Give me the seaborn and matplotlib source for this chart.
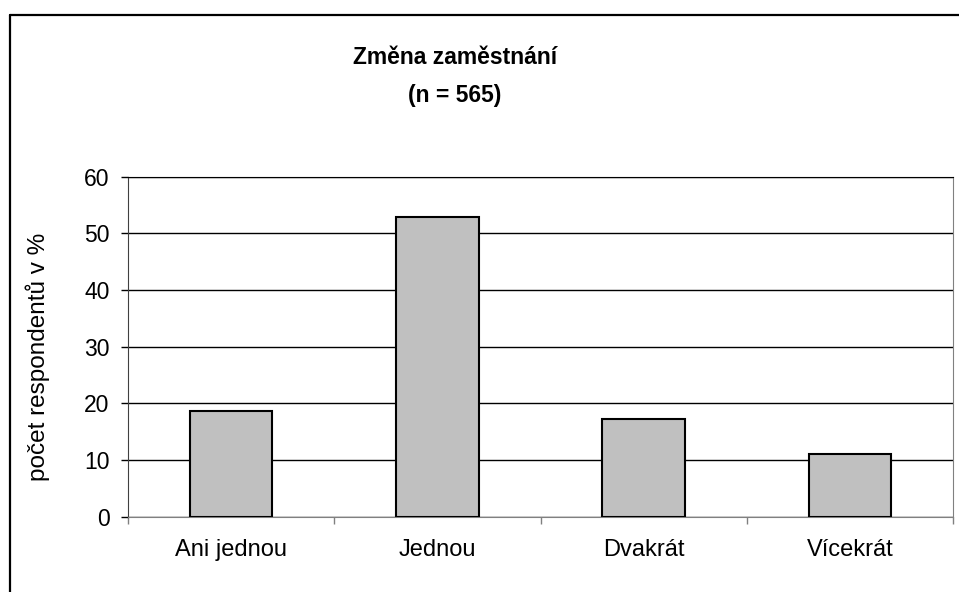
import seaborn as sns
import matplotlib.pyplot as plt
from matplotlib.lines import Line2D

categories = ['Ani jednou', 'Jednou', 'Dvakrát', 'Vícekrát']
percent = [18.7, 52.9, 17.3, 11.0]

sns.set_style('white')
plt.rcParams['font.family'] = ['Liberation Sans', 'DejaVu Sans']
plt.rcParams['text.color'] = 'black'
plt.rcParams['xtick.color'] = 'black'
plt.rcParams['ytick.color'] = 'black'
plt.rcParams['axes.labelcolor'] = 'black'

fig = plt.figure(figsize=(9.59, 5.92), dpi=100)
ax = fig.add_axes([0.1332, 0.1272, 0.8609, 0.5743])

sns.barplot(x=categories, y=percent, color='#C0C0C0', edgecolor='black',
            linewidth=1.5, width=0.4, saturation=1, ax=ax, zorder=3)

ax.set_xlim(-0.5, 3.5)
ax.set_ylim(0, 60)
ax.set_yticks(range(0, 61, 10))
ax.yaxis.grid(True, color='black', linewidth=1)
ax.set_axisbelow(True)

ax.set_xticks([-0.5, 0.5, 1.5, 2.5, 3.5], minor=True)
ax.tick_params(axis='x', which='major', length=0, pad=16, labelsize=17)
ax.tick_params(axis='x', which='minor', direction='out', length=5, width=1, color='#808080', bottom=True)
ax.tick_params(axis='y', direction='out', length=5, width=1, color='black', left=True, pad=8, labelsize=16.5)

for side in ['left', 'bottom', 'right', 'top']:
    ax.spines[side].set_visible(True)
ax.spines['left'].set_color('#404040')
ax.spines['bottom'].set_color('#808080')
ax.spines['right'].set_color('#808080')
ax.spines['top'].set_color('black')

ax.set_xlabel('')
ax.set_ylabel('počet respondentů v %', fontsize=17.5)
ax.yaxis.set_label_coords(-0.0945, 0.47)

fig.text(455 / 959, 1 - 57 / 592, 'Změna zaměstnání', ha='center', va='center',
         fontsize=16.5, fontweight='bold')
fig.text(455 / 959, 1 - 95 / 592, '(n = 565)', ha='center', va='center',
         fontsize=16.5, fontweight='bold')

# chart area frame (cut off on the right and bottom)
fx = 9.5 / 959
fy = 1 - 14.5 / 592
fig.add_artist(Line2D([fx, fx], [0, fy], color='black', linewidth=1.6))
fig.add_artist(Line2D([fx, 1], [fy, fy], color='black', linewidth=1.6))

plt.savefig('out.png', dpi=100)
